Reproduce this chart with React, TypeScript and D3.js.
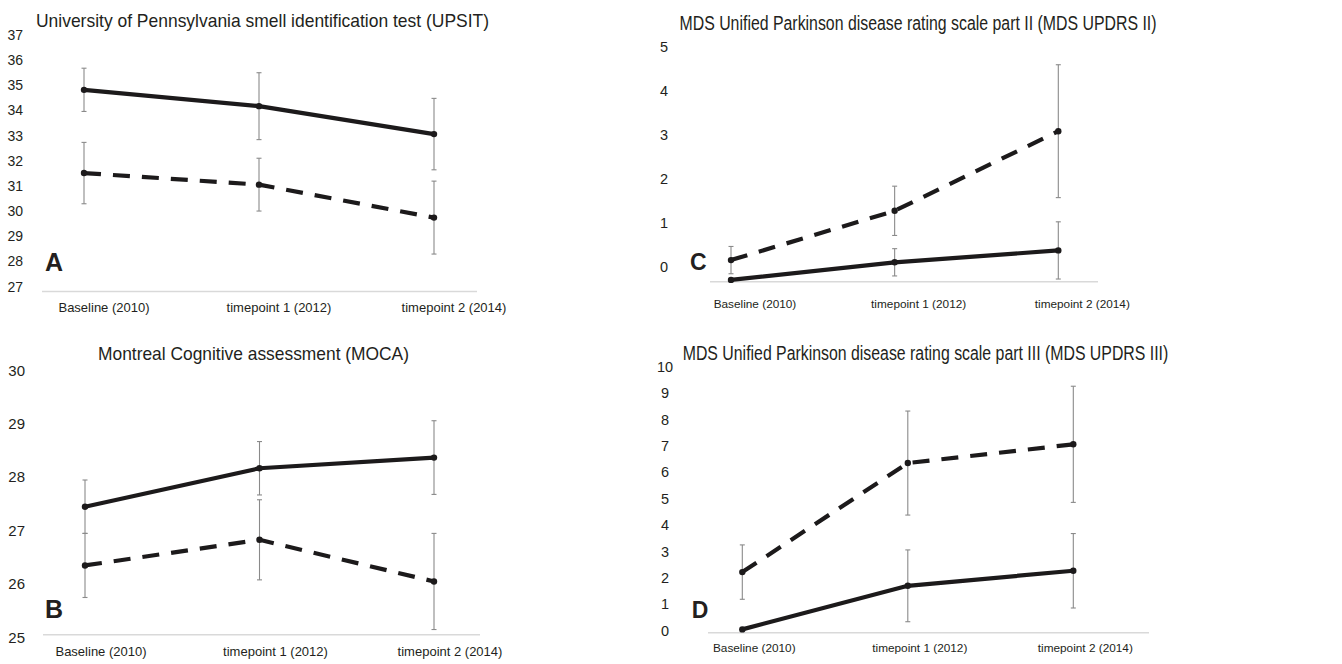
import * as d3 from 'd3';
import { useEffect, useRef } from 'react';

const categories = ['Baseline (2010)', 'timepoint 1 (2012)', 'timepoint 2 (2014)'];

// A: UPSIT
const upsitTicks = [27, 28, 29, 30, 31, 32, 33, 34, 35, 36, 37];
const upsitSolid = [34.82, 34.17, 33.06];
const upsitSolidErr = [0.86, 1.33, 1.42];
const upsitDashed = [31.51, 31.05, 29.74];
const upsitDashedErr = [1.22, 1.05, 1.45];

// B: MOCA
const mocaTicks = [25, 26, 27, 28, 29, 30];
const mocaSolid = [27.44, 28.16, 28.36];
const mocaSolidErr = [0.5, 0.5, 0.69];
const mocaDashed = [26.34, 26.82, 26.04];
const mocaDashedErr = [0.6, 0.75, 0.9];

// C: MDS UPDRS II
const updrs2Ticks = [0, 1, 2, 3, 4, 5];
const updrs2Solid = [-0.3, 0.1, 0.37];
const updrs2SolidErr = [0, 0.31, 0.65];
const updrs2Dashed = [0.15, 1.27, 3.08];
const updrs2DashedErr = [0.31, 0.56, 1.51];

// D: MDS UPDRS III
const updrs3Ticks = [0, 1, 2, 3, 4, 5, 6, 7, 8, 9, 10];
const updrs3Solid = [0.05, 1.7, 2.27];
const updrs3SolidErr = [0, 1.36, 1.41];
const updrs3Dashed = [2.22, 6.35, 7.06];
const updrs3DashedErr = [1.03, 1.97, 2.2];

interface Panel {
    letter: string;
    title: string;
    ticks: number[];
    solid: number[];
    solidErr: number[];
    dashed: number[];
    dashedErr: number[];
    yRange: [number, number];
    xRange: [number, number];
    axisX: [number, number];
    axisAt: number;
    labelY: number;
    labelDx: number;
    labelSize: number;
    tickX: number;
    tickAnchor: string;
    tickSize: number;
    titleX: number;
    titleY: number;
    titleW: number;
    titleSize: number;
    letterX: number;
    letterY: number;
    letterSize: number;
}

const panels: Panel[] = [
    {
        letter: 'A', title: 'University of Pennsylvania smell identification test (UPSIT)',
        ticks: upsitTicks, solid: upsitSolid, solidErr: upsitSolidErr, dashed: upsitDashed, dashedErr: upsitDashedErr,
        yRange: [286.5, 35], xRange: [84, 434], axisX: [42, 477], axisAt: 26.8,
        labelY: 307, labelDx: 20, labelSize: 13, tickX: 23, tickAnchor: 'end', tickSize: 14,
        titleX: 262.5, titleY: 20, titleW: 453, titleSize: 19, letterX: 45, letterY: 271, letterSize: 25
    },
    {
        letter: 'B', title: 'Montreal Cognitive assessment (MOCA)',
        ticks: mocaTicks, solid: mocaSolid, solidErr: mocaSolidErr, dashed: mocaDashed, dashedErr: mocaDashedErr,
        yRange: [637, 370], xRange: [85, 434], axisX: [43, 480], axisAt: 25.04,
        labelY: 651.5, labelDx: 16, labelSize: 13, tickX: 25, tickAnchor: 'end', tickSize: 15,
        titleX: 253.5, titleY: 353, titleW: 311, titleSize: 19, letterX: 45, letterY: 618, letterSize: 25
    },
    {
        letter: 'C', title: 'MDS Unified Parkinson disease rating scale part II (MDS UPDRS II)',
        ticks: updrs2Ticks, solid: updrs2Solid, solidErr: updrs2SolidErr, dashed: updrs2Dashed, dashedErr: updrs2DashedErr,
        yRange: [266.7, 46.7], xRange: [731, 1058.3], axisX: [710, 1098], axisAt: -0.34,
        labelY: 304, labelDx: 24, labelSize: 11.8, tickX: 668, tickAnchor: 'end', tickSize: 14.5,
        titleX: 918, titleY: 23.3, titleW: 477, titleSize: 20, letterX: 690, letterY: 270, letterSize: 23
    },
    {
        letter: 'D', title: 'MDS Unified Parkinson disease rating scale part III (MDS UPDRS III)',
        ticks: updrs3Ticks, solid: updrs3Solid, solidErr: updrs3SolidErr, dashed: updrs3Dashed, dashedErr: updrs3DashedErr,
        yRange: [630.7, 366.7], xRange: [742.3, 1073.3], axisX: [708, 1149], axisAt: -0.08,
        labelY: 648.3, labelDx: 12, labelSize: 11.8, tickX: 665, tickAnchor: 'middle', tickSize: 14.5,
        titleX: 925.5, titleY: 353.3, titleW: 485.6, titleSize: 20, letterX: 691.7, letterY: 618.3, letterSize: 23
    }
];

const FONT = '"Liberation Sans", Arial, Helvetica, sans-serif';

const App = () => {
    const ref = useRef<SVGSVGElement | null>(null);

    useEffect(() => {
        if (!ref.current) return;
        const svg = d3.select(ref.current);
        svg.selectAll('*').remove();

        panels.forEach(p => {
            const g = svg.append('g');
            const y = d3.scaleLinear()
                .domain([p.ticks[0], p.ticks[p.ticks.length - 1]])
                .range(p.yRange);
            const x = d3.scalePoint<string>()
                .domain(categories)
                .range(p.xRange);

            // title
            g.append('text')
                .attr('x', p.titleX)
                .attr('y', p.titleY)
                .attr('text-anchor', 'middle')
                .attr('dominant-baseline', 'central')
                .attr('font-family', FONT)
                .attr('font-size', p.titleSize)
                .attr('fill', '#231f20')
                .attr('textLength', p.titleW)
                .attr('lengthAdjust', 'spacingAndGlyphs')
                .text(p.title);

            // y tick labels
            g.selectAll('.ytick')
                .data(p.ticks)
                .enter().append('text')
                .attr('x', p.tickX)
                .attr('y', d => y(d))
                .attr('text-anchor', p.tickAnchor)
                .attr('dominant-baseline', 'central')
                .attr('font-family', FONT)
                .attr('font-size', p.tickSize)
                .attr('fill', '#231f20')
                .text(d => d);

            // baseline axis
            g.append('line')
                .attr('x1', p.axisX[0])
                .attr('x2', p.axisX[1])
                .attr('y1', y(p.axisAt))
                .attr('y2', y(p.axisAt))
                .attr('stroke', '#d9d9d9')
                .attr('stroke-width', 1.5);

            // category labels
            g.selectAll('.xlabel')
                .data(categories)
                .enter().append('text')
                .attr('x', d => x(d)! + p.labelDx)
                .attr('y', p.labelY)
                .attr('text-anchor', 'middle')
                .attr('dominant-baseline', 'central')
                .attr('font-family', FONT)
                .attr('font-size', p.labelSize)
                .attr('fill', '#231f20')
                .text(d => d);

            // panel letter
            g.append('text')
                .attr('x', p.letterX)
                .attr('y', p.letterY)
                .attr('font-family', FONT)
                .attr('font-weight', 'bold')
                .attr('font-size', p.letterSize)
                .attr('fill', '#231f20')
                .text(p.letter);

            const series = [
                { values: p.solid, err: p.solidErr, dash: null },
                { values: p.dashed, err: p.dashedErr, dash: '17,12' }
            ];

            series.forEach(s => {
                const pts = categories.map((c, i) => ({ c, v: s.values[i], e: s.err[i] }));

                // error bars
                const eb = g.selectAll(null)
                    .data(pts.filter(d => d.e > 0))
                    .enter().append('g')
                    .attr('stroke', '#8a8a8a')
                    .attr('stroke-width', 1.1);
                eb.append('line')
                    .attr('x1', d => x(d.c)!)
                    .attr('x2', d => x(d.c)!)
                    .attr('y1', d => y(d.v + d.e))
                    .attr('y2', d => y(d.v - d.e));
                eb.append('line')
                    .attr('x1', d => x(d.c)! - 2.5)
                    .attr('x2', d => x(d.c)! + 2.5)
                    .attr('y1', d => y(d.v + d.e))
                    .attr('y2', d => y(d.v + d.e));
                eb.append('line')
                    .attr('x1', d => x(d.c)! - 2.5)
                    .attr('x2', d => x(d.c)! + 2.5)
                    .attr('y1', d => y(d.v - d.e))
                    .attr('y2', d => y(d.v - d.e));
            });

            series.forEach(s => {
                const pts = categories.map((c, i) => ({ c, v: s.values[i] }));
                const line = d3.line<{ c: string; v: number }>()
                    .x(d => x(d.c)!)
                    .y(d => y(d.v));

                g.append('path')
                    .datum(pts)
                    .attr('d', line)
                    .attr('fill', 'none')
                    .attr('stroke', '#1c1a1b')
                    .attr('stroke-width', 4.2)
                    .attr('stroke-dasharray', s.dash)
                    .attr('stroke-linejoin', 'round');

                g.selectAll(null)
                    .data(pts)
                    .enter().append('circle')
                    .attr('cx', d => x(d.c)!)
                    .attr('cy', d => y(d.v))
                    .attr('r', 3.2)
                    .attr('fill', '#1c1a1b');
            });
        });
    }, []);

    return (
        <div style={{ position: 'absolute', left: 0, top: 0 }}>
            <svg ref={ref} width={1342} height={664} style={{ display: 'block', background: '#fff' }} />
        </div>
    );
};

export default App;
